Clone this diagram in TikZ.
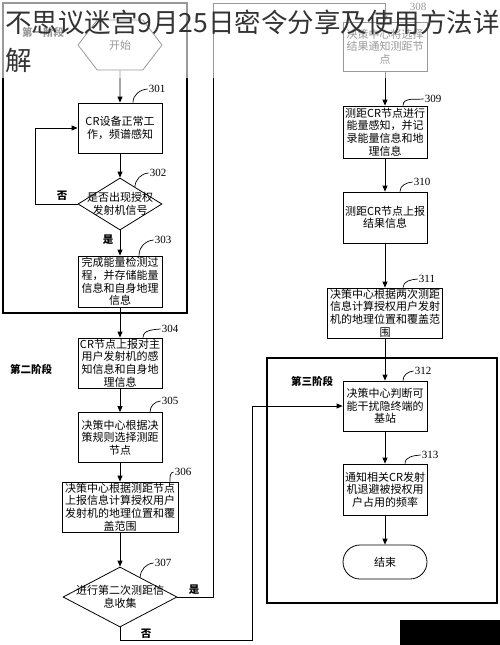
\documentclass[tikz,border=0pt]{standalone}
\usepackage{fontspec}
\setmainfont{Liberation Serif}
\newfontfamily\cjk{Noto Sans CJK SC}
\usepackage{tikz}
\usetikzlibrary{shapes.geometric, shapes.symbols, arrows.meta, calc}

\begin{document}
\begin{tikzpicture}[x=1pt,y=1pt,
		box/.style={draw, line width=0.8pt, rectangle, minimum width=84pt, minimum height=50pt, inner sep=1pt, align=center, font=\cjk\fontsize{11}{12.6}\selectfont},
		cond/.style={draw, line width=0.8pt, diamond, inner sep=0pt, minimum width=84pt, minimum height=52pt},
		txt/.style={align=center, inner sep=0pt, font=\cjk\fontsize{11}{12.6}\selectfont},
		lab/.style={font=\fontsize{11}{12}\selectfont, inner sep=1pt},
		yn/.style={font=\cjk\bfseries\fontsize{10.5}{12}\selectfont, inner sep=1pt},
		stage/.style={font=\cjk\bfseries\fontsize{10.5}{12}\selectfont, inner sep=1pt},
		arr/.style={line width=0.8pt, -{Triangle[length=6pt,width=5pt]}},
		frame/.style={line width=1.1pt}]
		\useasboundingbox (0,0) rectangle (500,-645);
		
		% Stage frames
		\draw[frame] (3,-3) rectangle (187,-313);
		\draw[frame] (267,-358) rectangle (497,-603);
		\node[stage] (st1) at (43,-32) {第一阶段};
		\node[stage] (st2) at (31,-369) {第二阶段};
		\node[stage] (st3) at (312,-381) {第三阶段};
		
		% Left column
		\node[draw, line width=0.8pt, signal, signal to=east and west, signal pointer angle=105, minimum width=84pt, minimum height=50pt, inner sep=0pt, font=\cjk\fontsize{11}{12}\selectfont] (start) at (120,-45) {开始};
		\node[box] (s301) at (120,-128) {CR设备正常工\\作，频谱感知};
		\node[cond] (c302) at (120,-204) {};
		\node[txt] (t302) at (c302) {是否出现授权\\发射机信号};
		\node[box, minimum height=51pt] (s303) at (120,-281.5) {完成能量检测过\\程，并存储能量\\信息和自身地理\\信息};
		\node[box] (s304) at (120,-363) {CR节点上报对主\\用户发射机的感\\知信息和自身地\\理信息};
		\node[box] (s305) at (120,-437.5) {决策中心根据决\\策规则选择测距\\节点};
		\node[box, minimum width=116pt] (s306) at (120,-507) {决策中心根据测距节点\\上报信息计算授权用户\\发射机的地理位置和覆\\盖范围};
		\node[cond, minimum width=114pt, minimum height=60pt] (c307) at (120,-597) {};
		\node[txt] (t307) at (c307) {进行第二次测距信\\息收集};
		
		% Right column
		\node[box, minimum height=49pt] (s308) at (385,-46.5) {决策中心将选择\\结果通知测距节\\点};
		\node[box, minimum height=52pt] (s309) at (385,-132) {测距CR节点进行\\能量感知，并记\\录能量信息和地\\理信息};
		\node[box, minimum height=51pt] (s310) at (385,-217.5) {测距CR节点上报\\结果信息};
		\node[box, minimum width=115pt] (s311) at (385,-313) {决策中心根据两次测距\\信息计算授权用户发射\\机的地理位置和覆盖范\\围};
		\node[box] (s312) at (385,-406) {决策中心判断可\\能干扰隐终端的\\基站};
		\node[box, minimum height=51pt] (s313) at (385,-489.5) {通知相关CR发射\\机退避被授权用\\户占用的频率};
		\node[box, rounded corners=17pt, minimum height=34pt] (end) at (385,-562) {结束};
		
		% Step numbers
		\node[lab] (l301) at (157,-89) {301};
		\node[lab] (l302) at (158,-173) {302};
		\node[lab] (l303) at (163,-240) {303};
		\node[lab] (l304) at (170,-329) {304};
		\node[lab] (l305) at (170,-401) {305};
		\node[lab] (l306) at (183,-472) {306};
		\node[lab] (l307) at (163,-563) {307};
		\node[lab] (l308) at (418,-7) {308};
		\node[lab] (l309) at (433,-99) {309};
		\node[lab] (l310) at (422,-182) {310};
		\node[lab] (l311) at (427,-279) {311};
		\node[lab] (l312) at (423,-371) {312};
		\node[lab] (l313) at (430,-455) {313};
		
		\draw[line width=0.7pt] ([xshift=13pt]s301.north) to[out=90,in=185] (l301.west);
		\draw[line width=0.7pt] ($(c302.north)!0.35!(c302.east)$) to[out=85,in=185] (l302.west);
		\draw[line width=0.7pt] ([xshift=19pt]s303.north) to[out=90,in=185] (l303.west);
		\draw[line width=0.7pt] ([xshift=23pt]s304.north) to[out=90,in=185] (l304.west);
		\draw[line width=0.7pt] ([xshift=30pt]s305.north) to[out=90,in=185] (l305.west);
		\draw[line width=0.7pt] ([xshift=50pt]s306.north) to[out=90,in=185] (l306.west);
		\draw[line width=0.7pt] ($(c307.north)!0.35!(c307.east)$) to[out=85,in=185] (l307.west);
		\draw[line width=0.7pt] ([xshift=18pt]s309.north) to[out=90,in=185] (l309.west);
		\draw[line width=0.7pt] ([xshift=15pt]s310.north) to[out=90,in=185] (l310.west);
		\draw[line width=0.7pt] ([xshift=18pt]s311.north) to[out=90,in=185] (l311.west);
		\draw[line width=0.7pt] ([xshift=18pt]s312.north) to[out=90,in=185] (l312.west);
		\draw[line width=0.7pt] ([xshift=20pt]s313.north) to[out=90,in=185] (l313.west);
		
		% Flow
		\draw[arr] (start) -- (s301);
		\draw[arr] (s301) -- (c302);
		\draw[arr] (c302) -- (s303);
		\draw[arr] (c302.west) -- ++(-42,0) |- (s301.west);
		\draw[arr] (s303) -- (s304);
		\draw[arr] (s304) -- (s305);
		\draw[arr] (s305) -- (s306);
		\draw[arr] (s306) -- (c307);
		\coordinate (up) at (213,-3);
		\coordinate (dn) at (252,-640);
		\draw[arr] (c307.east) -| (up) -| (s308.north);
		\draw[arr] (c307.south) |- (dn) |- (s312.west);
		\draw[arr] (s308) -- (s309);
		\draw[arr] (s309) -- (s310);
		\draw[arr] (s310) -- (s311);
		\draw[arr] (s311) -- (s312);
		\draw[arr] (s312) -- (s313);
		\draw[arr] (s313) -- (end);
		
		\node[yn] (no1) at (62,-196) {否};
		\node[yn] (yes1) at (108,-240) {是};
		\node[yn] (yes2) at (194,-590) {是};
		\node[yn] (no2) at (146,-634) {否};
		
		% Overlay
		\fill[white, opacity=0.6] (0,0) rectangle (500,-78);
		\node[anchor=west, inner sep=0pt, text=black!80, font=\cjk\fontsize{26.5}{30}\selectfont] (ttl) at (5,-22) {不思议迷宫9月25日密令分享及使用方法详};
		\node[anchor=west, inner sep=0pt, text=black!80, font=\cjk\fontsize{26.5}{30}\selectfont] (ttl2) at (5,-60) {解};
		\fill[black] (400,-620) rectangle (500,-645);
	\end{tikzpicture}
\end{document}
